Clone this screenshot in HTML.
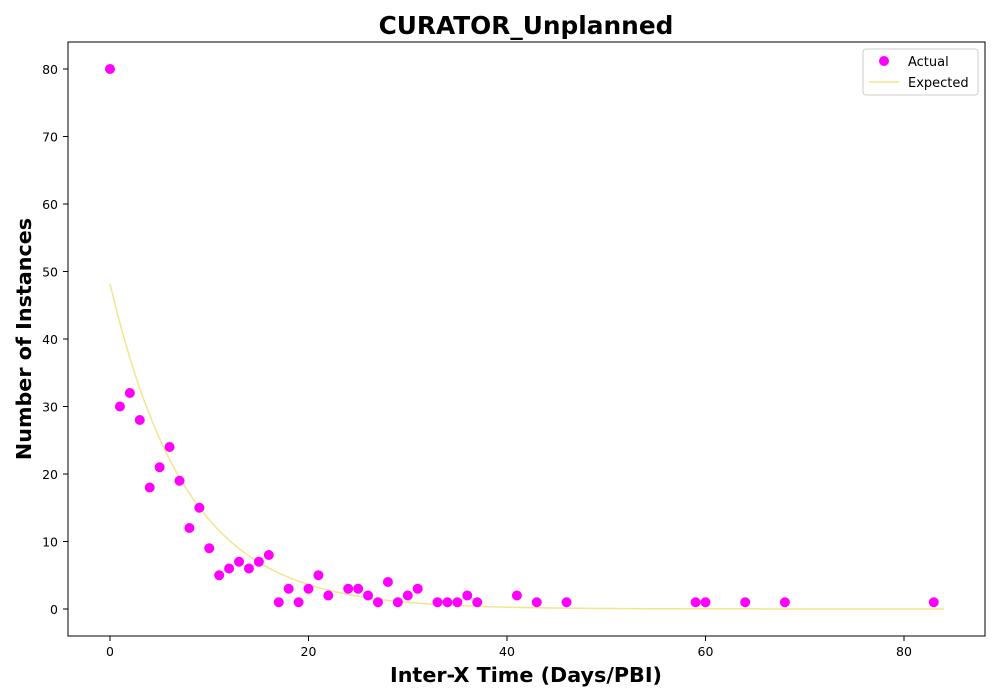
<!DOCTYPE html>
<html><head><meta charset="utf-8"><style>
body{margin:0;background:#fff;}
svg{display:block;font-family:"DejaVu Sans","Liberation Sans",sans-serif;}
</style></head><body>
<svg id="chart" width="1000" height="700">
<rect x="0" y="0" width="1000" height="700" fill="#fff"/>
<text x="526" y="34" text-anchor="middle" font-size="24.8" font-weight="bold">CURATOR_Unplanned</text>
<g id="grid"></g>
<g id="marks"></g>
<rect x="68" y="42" width="917" height="594" fill="none" stroke="#000" stroke-width="1"/>
<text x="526" y="682" text-anchor="middle" font-size="20.7" font-weight="bold">Inter-X Time (Days/PBI)</text>
<text transform="translate(31,339) rotate(-90)" text-anchor="middle" font-size="20.7" font-weight="bold">Number of Instances</text>
<g>
<rect x="863" y="49" width="115" height="46" rx="3" fill="#fff" stroke="#ccc"/>
<circle cx="884" cy="61" r="5" fill="#ff00ff"/>
<text x="908" y="66" font-size="13">Actual</text>
<line x1="869" y1="82" x2="899" y2="82" stroke="#f0e68c" stroke-width="1.5"/>
<text x="908" y="87" font-size="13">Expected</text>
</g>
</svg>
<script>
const actualX=[0,1,2,3,4,5,6,7,8,9,10,11,12,13,14,15,16,17,18,19,20,21,22,24,25,26,27,28,29,30,31,33,34,35,36,37,41,43,46,59,60,64,68,83];
const actualY=[80,30,32,28,18,21,24,19,12,15,9,5,6,7,6,7,8,1,3,1,3,5,2,3,3,2,1,4,1,2,3,1,1,1,2,1,2,1,1,1,1,1,1,1];
const expectedAmp=[48.2];
const expectedRate=[0.1295];
const expectedRange=[0,84];
const xTicks=[0,20,40,60,80];
const yTicks=[0,10,20,30,40,50,60,70,80];
const NS="http://www.w3.org/2000/svg";
function sx(v){return 110+v*(904-110)/80;}
function sy(v){return 609-v*(609-69)/80;}
const grid=document.getElementById('grid'),marks=document.getElementById('marks');
function mk(tag,attrs,parent){const e=document.createElementNS(NS,tag);for(const k in attrs)e.setAttribute(k,attrs[k]);parent.appendChild(e);return e;}
xTicks.forEach(t=>{
 const l=mk('line',{x1:sx(t),x2:sx(t),y1:636,y2:641,stroke:'#000'},grid);
 
 
 const tx=mk('text',{x:sx(t),y:656,'text-anchor':'middle','font-size':12.5},grid);tx.textContent=t;
 
 
});
yTicks.forEach(t=>{
 const l=mk('line',{x1:63,x2:68,y1:sy(t),y2:sy(t),stroke:'#000'},grid);
 
 
 const tx=mk('text',{x:58,y:sy(t)+5,'text-anchor':'end','font-size':12.5},grid);tx.textContent=t;
 
 
});
let d='';
for(let i=0;i<=200;i++){const x=expectedRange[0]+(expectedRange[1]-expectedRange[0])*i/200;const y=expectedAmp[0]*Math.exp(-expectedRate[0]*x);d+=(i?'L':'M')+sx(x).toFixed(2)+','+sy(y).toFixed(2);}
const p=mk('path',{d:d,fill:'none',stroke:'#f0e68c','stroke-width':1.5},marks);


actualX.forEach((x,i)=>{
 const c=mk('circle',{cx:sx(x),cy:sy(actualY[i]),r:5,fill:'#ff00ff'},marks);
 
 
});
</script>
</body></html>
